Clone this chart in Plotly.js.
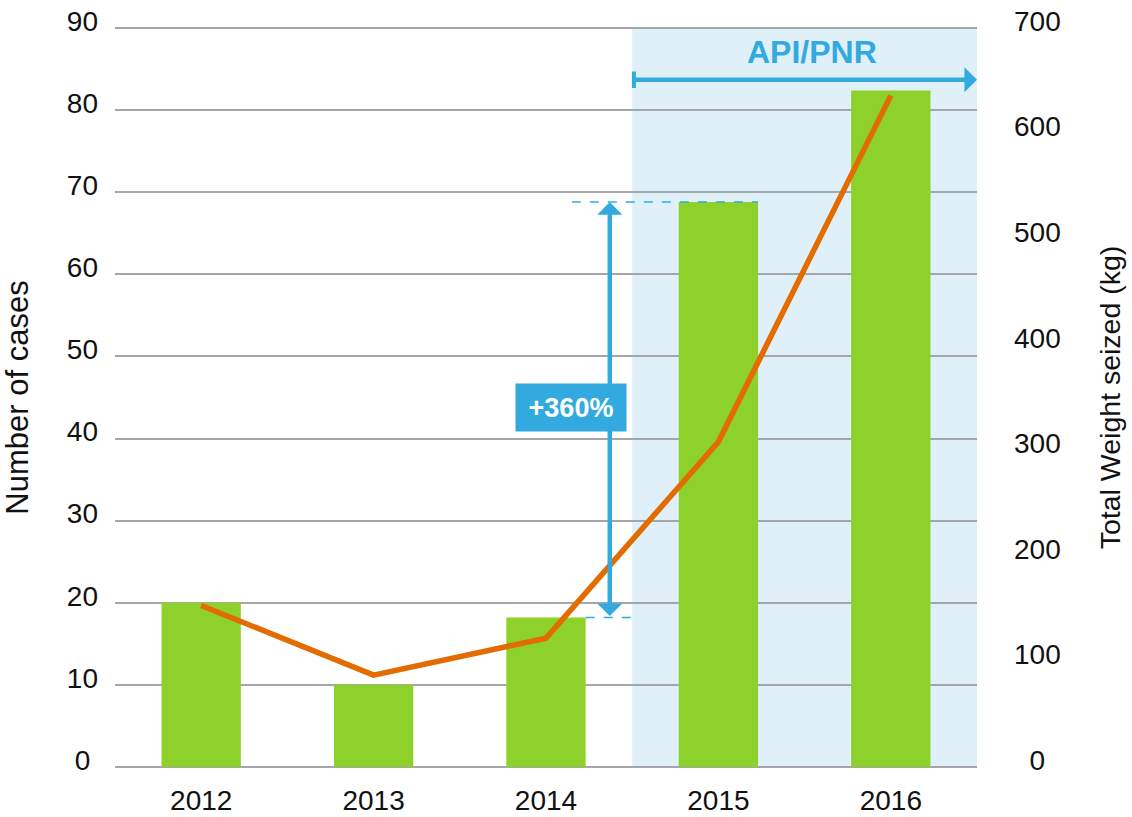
<!DOCTYPE html>
<html>
<head>
<meta charset="utf-8">
<script src="https://cdn.plot.ly/plotly-3.0.1.min.js"></script>
<style>
  html, body { margin: 0; padding: 0; background: #ffffff; }
  #chart { width: 1132px; height: 817px; }
</style>
</head>
<body>
<div id="chart"></div>
<script>
// ---- data ----
const years = ['2012', '2013', '2014', '2015', '2016'];
const cases = [20, 10, 18.2, 68.8, 82.4];          // Number of cases (bars, left axis)
const weightKg = [153, 87, 122, 308, 636];          // Total weight seized, kg (line, right axis)

const leftTickVals = [0, 10, 20, 30, 40, 50, 60, 70, 80, 90];
const leftTickText = ['0\u2008', '10', '20', '30', '40', '50', '60', '70', '80', '90'];
const rightTickVals = [0, 100, 200, 300, 400, 500, 600, 700];
const rightTickText = ['\u20070', '100', '200', '300', '400', '500', '600', '700'];

const increaseLabel = '+360%';
const periodLabel = 'API/PNR';
const leftTitle = 'Number of cases';
const rightTitle = 'Total Weight seized (kg)';

// ---- styles ----
const FONT = 'Liberation Sans, Arial, Helvetica, sans-serif';
const GREEN = '#8dd12a';
const ORANGE = '#e36b00';
const BLUE = '#33aadf';
const SHADE = '#dff0f9';
const GRID = '#a3a7ab';

const traces = [
  {
    type: 'bar',
    x: years,
    y: cases,
    marker: { color: GREEN },
    width: 0.46,
    yaxis: 'y',
    hoverinfo: 'skip'
  },
  {
    type: 'scatter',
    mode: 'lines',
    x: years,
    y: weightKg,
    yaxis: 'y2',
    line: { color: ORANGE, width: 5.5 },
    hoverinfo: 'skip'
  }
];

// axis ranges (a hair of padding so the 0 and 90 gridlines are kept)
const leftMax = 90, rightMax = 700, pad = 0.25;
const leftRange = [-pad, leftMax + pad];
const rightRange = [-pad * rightMax / leftMax, rightMax + pad * rightMax / leftMax];

// indices used for annotation anchoring
const i2014 = years.indexOf('2014');
const i2015 = years.indexOf('2015');
const i2016 = years.indexOf('2016');
const halfBar = 0.23;
const shadeStart = i2014 + 0.5;
const shadeEnd = i2016 + 0.5;
const arrowX = i2014 + 0.37;
const periodY = 83.7;

const layout = {
  width: 1132,
  height: 817,
  margin: { l: 115, r: 155, t: 26, b: 48 },
  paper_bgcolor: '#ffffff',
  plot_bgcolor: 'rgba(0,0,0,0)',
  showlegend: false,
  bargap: 0.54,
  font: { family: FONT, color: '#111111', size: 28 },
  xaxis: {
    type: 'category',
    range: [-0.5, 4.5],
    showgrid: false,
    zeroline: false,
    showline: false,
    ticks: '',
    ticklabelstandoff: 12,
    tickfont: { family: FONT, size: 28, color: '#111111' },
    fixedrange: true
  },
  yaxis: {
    range: leftRange,
    tickvals: leftTickVals,
    ticktext: leftTickText,
    showgrid: true,
    gridcolor: GRID,
    gridwidth: 2,
    zeroline: false,
    showline: false,
    ticks: '',
    ticklabelstandoff: 16,
    ticklabelshift: -7,
    tickfont: { family: FONT, size: 28, color: '#111111' },
    title: { text: leftTitle, font: { family: FONT, size: 31, color: '#111111' }, standoff: 28 },
    fixedrange: true
  },
  yaxis2: {
    overlaying: 'y',
    side: 'right',
    range: rightRange,
    tickvals: rightTickVals,
    ticktext: rightTickText,
    showgrid: false,
    zeroline: false,
    showline: false,
    ticks: '',
    ticklabelstandoff: 36,
    ticklabelshift: -7,
    tickfont: { family: FONT, size: 28, color: '#111111' },
    title: { text: rightTitle, font: { family: FONT, size: 28.5, color: '#111111' }, standoff: 40 },
    fixedrange: true
  },
  shapes: [
    // shaded API/PNR period
    { type: 'rect', xref: 'x', yref: 'y', x0: shadeStart, x1: shadeEnd, y0: 0, y1: leftMax,
      fillcolor: SHADE, line: { width: 0 }, layer: 'below' },
    // dashed guide at 2015 level
    { type: 'line', xref: 'x', yref: 'y', x0: i2014 + 0.15, x1: i2015 + halfBar, y0: cases[i2015], y1: cases[i2015],
      line: { color: BLUE, width: 1.5, dash: 'dash' } },
    // dashed guide at 2014 level
    { type: 'line', xref: 'x', yref: 'y', x0: i2014 + halfBar, x1: shadeStart, y0: cases[i2014], y1: cases[i2014],
      line: { color: BLUE, width: 1.5, dash: 'dash' } },
    // start tick of the API/PNR arrow
    { type: 'line', xref: 'x', yref: 'y', x0: shadeStart + 0.01, x1: shadeStart + 0.01, y0: periodY - 1.0, y1: periodY + 1.0,
      line: { color: BLUE, width: 4 } }
  ],
  annotations: [
    // double-headed vertical arrow between 2014 and 2015 levels
    { xref: 'x', yref: 'y', axref: 'x', ayref: 'y',
      x: arrowX, y: cases[i2015], ax: arrowX, ay: cases[i2014],
      text: '', showarrow: true, arrowside: 'end+start',
      arrowhead: 1, startarrowhead: 1, arrowsize: 0.93, startarrowsize: 0.93,
      arrowwidth: 4.5, arrowcolor: BLUE, standoff: 0, startstandoff: 0 },
    // +360% label box
    { xref: 'x', yref: 'y', x: i2014 + 0.145, y: 43.8, text: '<b>' + increaseLabel + '</b>',
      showarrow: false, bgcolor: BLUE, width: 110, height: 47, borderpad: 0,
      font: { family: FONT, size: 27, color: '#ffffff' } },
    // API/PNR horizontal arrow
    { xref: 'x', yref: 'y', axref: 'x', ayref: 'y',
      x: shadeEnd, y: periodY, ax: shadeStart, ay: periodY,
      text: '', showarrow: true, arrowhead: 1, arrowsize: 0.93, arrowwidth: 4.5,
      arrowcolor: BLUE, standoff: 0 },
    // API/PNR label
    { xref: 'x', yref: 'y', x: (shadeStart + shadeEnd) / 2 + 0.043, y: 87.1,
      text: '<b>' + periodLabel + '</b>', showarrow: false,
      font: { family: FONT, size: 32, color: BLUE } }
  ]
};

Plotly.newPlot('chart', traces, layout, { displayModeBar: false, staticPlot: true });
</script>
</body>
</html>
